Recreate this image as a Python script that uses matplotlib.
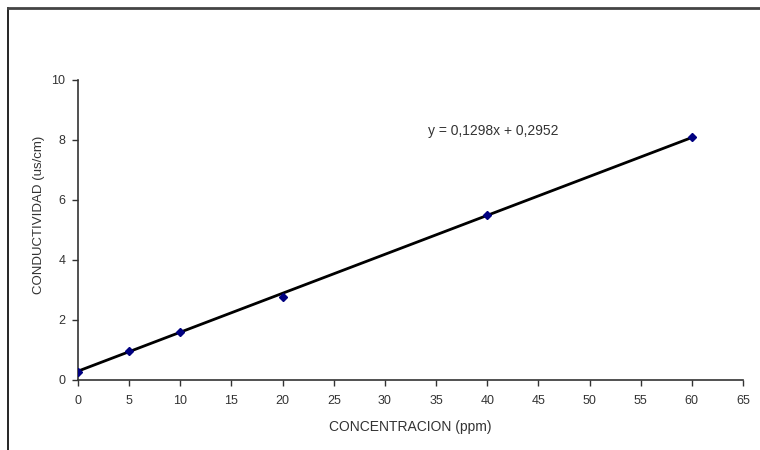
import numpy as np
import matplotlib
matplotlib.use("Agg")
import matplotlib.pyplot as plt
from matplotlib.lines import Line2D

plt.rcParams['font.family'] = ['Liberation Sans', 'DejaVu Sans']

concentracion = [0, 5, 10, 20, 40, 60]
conductividad = [0.28, 0.97, 1.6, 2.78, 5.5, 8.1]
slope, intercept = 0.1298, 0.2952
x_ticks = list(range(0, 70, 5))
y_ticks = [0, 2, 4, 6, 8, 10]

fig = plt.figure(figsize=(7.6, 4.5), dpi=100)
ax = fig.add_axes([78 / 760, 70 / 450, 665 / 760, 300 / 450])

# trend line across the data range
xs = np.array([concentracion[0], concentracion[-1]])
ax.plot(xs, slope * xs + intercept, color='black', lw=2, zorder=2)
ax.plot(concentracion, conductividad, ls='none', marker='D', ms=4.5,
        color='#000080', zorder=3)

ax.set_xlim(0, 65)
ax.set_ylim(0, 10)
ax.set_xticks(x_ticks)
ax.set_yticks(y_ticks)
for s in ['top', 'right']:
    ax.spines[s].set_visible(False)
for s in ['left', 'bottom']:
    ax.spines[s].set_color('#333333')
    ax.spines[s].set_linewidth(1.2)
ax.tick_params(direction='out', length=4, width=1, colors='#333333',
               labelsize=9, pad=5)
ax.tick_params(axis='x', pad=7)
ax.set_xlabel('CONCENTRACION (ppm)', fontsize=10, color='#333333', labelpad=9)
ax.set_ylabel('CONDUCTIVIDAD (us/cm)', fontsize=9.5, color='#333333')
ax.yaxis.set_label_coords(-0.05, 0.55)

ax.text(34.2, 8.3, 'y = 0,1298x + 0,2952', fontsize=10, color='#333333',
        va='center', ha='left')

# outer frame (left and top)
fig.add_artist(Line2D([8 / 760, 8 / 760], [0, 1 - 8 / 450],
                      transform=fig.transFigure, color='black', lw=1.2))
fig.add_artist(Line2D([8 / 760, 1], [1 - 8 / 450, 1 - 8 / 450],
                      transform=fig.transFigure, color='#444444', lw=2))

fig.savefig('out.png', dpi=100)
